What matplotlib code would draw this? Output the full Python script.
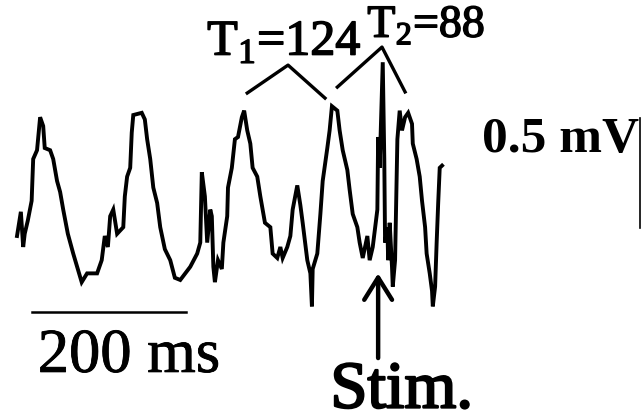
import matplotlib.pyplot as plt
import matplotlib.patheffects as pe
import numpy as np

plt.rcParams["font.family"] = ["Liberation Serif", "DejaVu Serif"]
plt.rcParams["mathtext.fontset"] = "custom"
plt.rcParams["mathtext.rm"] = "Liberation Serif"
plt.rcParams["mathtext.bf"] = "Liberation Serif:bold"

# ---------------------------------------------------------------------------
# Trace (time in ms, potential in mV)
# ---------------------------------------------------------------------------
t_ms = [
    0, 5, 8, 10, 14, 19, 21, 26, 30, 34, 36, 43, 47, 52, 56, 60, 66, 73, 79,
    84, 91, 104, 110, 114, 118, 121, 125, 130, 138, 140, 143, 147, 149, 151,
    162, 166, 169, 173, 177, 182, 186, 192, 199, 205, 212, 225, 234, 238, 240,
    244, 247, 251, 253, 255, 257, 261, 266, 268, 273, 274, 279, 283, 287, 292,
    295, 299, 303, 306, 312, 316, 322, 329, 332, 338, 342, 345, 351, 355, 358,
    364, 368, 371, 377, 381, 383, 384, 390, 394, 397, 403, 406, 409, 416, 419,
    423, 429, 432, 436, 442, 445, 449, 455, 458, 462, 468, 469, 471, 475, 477,
    478, 481, 482, 484, 487, 488, 491, 494, 497, 500, 504, 508, 513, 514, 519,
    523, 526, 530, 532, 536, 539, 540, 543, 545, 547, 549, 552,
]
v_mv = [
    0.20, 0.31, 0.15, 0.21, 0.27, 0.36, 0.55, 0.59, 0.74, 0.70, 0.60, 0.59,
    0.55, 0.45, 0.40, 0.32, 0.21, 0.12, 0.05, -0.01, 0.03, 0.03, 0.09, 0.20,
    0.15, 0.29, 0.32, 0.21, 0.24, 0.38, 0.47, 0.51, 0.67, 0.75, 0.76, 0.73,
    0.64, 0.55, 0.42, 0.35, 0.24, 0.14, 0.09, 0.01, 0.00, 0.06, 0.12, 0.17,
    0.49, 0.38, 0.17, 0.32, 0.29, 0.06, -0.01, 0.09, 0.05, 0.17, 0.29, 0.42,
    0.51, 0.64, 0.65, 0.74, 0.77, 0.68, 0.62, 0.51, 0.47, 0.38, 0.26, 0.24,
    0.12, 0.10, 0.15, 0.10, 0.15, 0.20, 0.32, 0.43, 0.34, 0.26, 0.09, 0.03,
    -0.12, 0.05, 0.12, 0.30, 0.45, 0.60, 0.68, 0.79, 0.77, 0.68, 0.59, 0.50,
    0.41, 0.30, 0.24, 0.17, 0.10, 0.20, 0.09, 0.15, 0.32, 0.65, 0.51, 0.99,
    0.55, 0.17, 0.24, 0.09, 0.26, 0.06, -0.03, 0.09, 0.64, 0.77, 0.68, 0.74,
    0.76, 0.71, 0.62, 0.55, 0.47, 0.36, 0.24, 0.12, 0.03, -0.05, -0.12,
    -0.03, 0.17, 0.35, 0.51, 0.52,
]

# cycle lengths marked above the trace (ms) and stimulus time
periods = [124, 88]
peak_times = [295, 409, 475, 504]   # bracket ends / apex anchors
stim_time = 469
time_bar_ms = 200
volt_bar_mv = 0.5

LW = 2.8
# scanned look: thicken the serif glyphs a little
thick = [pe.withStroke(linewidth=1.1, foreground="black")]

fig = plt.figure(figsize=(6.41, 4.17), dpi=100)
ax = fig.add_axes([0, 0, 1, 1])
ax.set_xlim(-22.1, 810.4)
ax.set_ylim(-0.623, 1.273)
ax.axis("off")

ax.plot(t_ms, v_mv, color="black", lw=LW, solid_joinstyle="miter")

# brackets for T1 and T2
ax.plot([peak_times[0] + 4, 352, peak_times[1] - 9], [0.85, 0.977, 0.827],
        color="black", lw=2.4)
ax.plot([peak_times[1] + 7, peak_times[2] - 1, peak_times[3]],
        [0.877, 1.059, 0.855], color="black", lw=2.4)

ax.text(247, 1.023, r"T$_{1}$=%d" % periods[0], fontsize=36,
        color="black", path_effects=thick)
ax.text(455, 1.105, r"T$_{2}$=%d" % periods[1], fontsize=33,
        color="black", path_effects=thick)

# scale bars
ax.plot([19.5, 19.5 + time_bar_ms], [-0.145, -0.145], color="black", lw=1.8)
ax.text(27, -0.418, "%d ms" % time_bar_ms, fontsize=45, color="black",
        path_effects=[pe.withStroke(linewidth=0.6, foreground="black")])
ax.plot([809, 809], [0.236, 0.236 + volt_bar_mv], color="black", lw=1.2)
ax.text(604, 0.582, "%.1f mV" % volt_bar_mv, fontsize=37,
        fontweight="bold", color="black")

# stimulus arrow
ax.annotate(
    "", xy=(stim_time, 0.03), xytext=(stim_time, -0.355),
    arrowprops=dict(arrowstyle="->, head_length=1.6, head_width=1.0",
                    lw=3.2, color="black", shrinkA=0, shrinkB=0,
                    mutation_scale=10),
)
ax.text(407, -0.58, "Stim.", fontsize=48, color="black",
        path_effects=[pe.withStroke(linewidth=1.6, foreground="black")])

fig.savefig("out.png", dpi=100)
